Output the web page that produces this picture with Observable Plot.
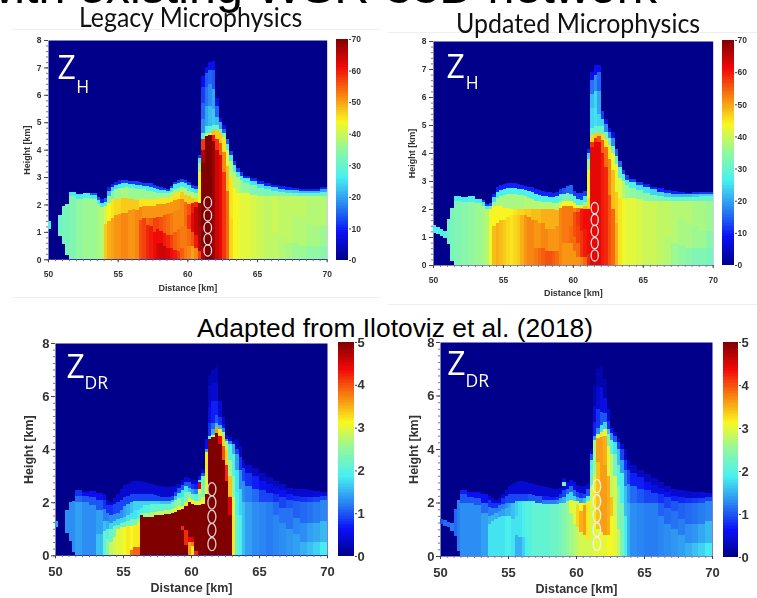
<!DOCTYPE html>
<html>
<head>
<meta charset="utf-8">
<script src="https://cdn.jsdelivr.net/npm/d3@7"></script>
<script src="https://cdn.jsdelivr.net/npm/@observablehq/plot@0.6"></script>
<style>
html,body{margin:0;padding:0;background:#fff;width:757px;height:598px;overflow:hidden;position:relative}
.abs{position:absolute;white-space:nowrap;transform-origin:0 0}
svg{position:absolute;filter:blur(0.7px);overflow:visible}
.rule{position:absolute;height:1px;background:#efefef}
</style>
</head>
<body>
<script>
// Each entry: "column start km: value@top-of-layer-km ..." (layers stack upward; above the last layer is 0)
const legacyZh = [
"50: 0@1.1 27@1.38","50.25: ","50.75: 0@0.85 31@1.6","51: 0@0.55 32@1.95","51.25: 0@0.15 32@2.0",
"51.5: 33@2.3 26@2.45","52: 35@2.2 26@2.38","52.5: 36@2.25 27@2.42","53: 36@2.2 26@2.33 14@2.4",
"53.5: 37@2.0 26@2.15 14@2.28","53.75: 38@1.9 26@2.07 10@2.2","54: 47@1.3 41@1.95 28@2.1 14@2.22",
"54.25: 49@1.4 44@2.05 33@2.3 22@2.5 10@2.62","54.5: 50@1.5 45@2.2 33@2.5 24@2.65 10@2.75",
"54.75: 51@1.6 46@2.2 36@2.55 25@2.72 10@2.83","55: 51@1.65 46@2.2 36@2.6 26@2.75 10@2.88",
"55.25: 52@1.7 47@2.25 37@2.6 27@2.78 12@2.9","55.5: 52@1.7 47@2.25 37@2.62 27@2.78 12@2.9",
"55.75: 51@1.8 47@2.2 36@2.6 27@2.75 12@2.87","56: 51@1.85 47@2.2 36@2.6 27@2.75 12@2.85",
"56.25: 52@1.8 47@2.15 36@2.55 26@2.72 12@2.84","56.5: 56@1.45 52@1.9 45@2.2 36@2.55 26@2.7 12@2.82",
"56.75: 57@1.5 51@1.95 45@2.2 36@2.55 26@2.68 12@2.8","57: 59@1.25 54@1.5 51@1.95 45@2.2 36@2.5 26@2.66 12@2.79",
"57.25: 60@1.2 55@1.5 51@1.95 45@2.2 36@2.5 26@2.65 12@2.78","57.5: 61@1.0 57@1.5 51@1.95 45@2.2 36@2.45 26@2.6 12@2.72",
"57.75: 63@0.6 61@1.1 57@1.55 51@2.0 45@2.2 36@2.4 26@2.55 12@2.68","58: 64@0.6 61@1.05 56@1.55 51@2.0 45@2.25 36@2.4 26@2.53 12@2.64",
"58.25: 64@0.5 60@0.95 55@1.6 51@2.0 45@2.25 36@2.4 26@2.52 12@2.6","58.5: 63@0.4 59@0.9 54@1.65 51@2.05 45@2.25 36@2.4 26@2.5 12@2.58",
"58.75: 61@0.4 57@0.9 53@1.7 51@2.1 45@2.3 36@2.45 26@2.6 12@2.68","59: 60@0.35 55@1.0 52@1.75 51@2.15 45@2.4 36@2.55 26@2.75 12@2.82",
"59.25: 58@0.3 54@1.1 52@1.8 51@2.2 45@2.45 36@2.6 26@2.8 12@2.9","59.5: 55@0.4 53@1.2 52@2.2 47@2.45 38@2.65 26@2.82 12@2.92",
"59.75: 53@0.5 53@1.2 54@2.1 47@2.35 38@2.6 26@2.8 12@2.9","60: 52@0.5 54@1.1 58@1.6 56@2.0 47@2.3 38@2.5 26@2.72 12@2.82",
"60.25: 50@0.5 56@1.0 62@1.7 60@2.05 47@2.25 38@2.45 26@2.6 12@2.72","60.5: 52@0.4 60@0.9 65@1.9 59@2.1 46@2.25 37@2.4 25@2.55 12@2.68",
"60.75: 57@0.3 66@1.2 67@2.05 44@2.5 43@3.2 36@3.5 26@3.7 12@3.82","61: 66@0.5 70@3.5 66@4.0 58@4.4 28@4.6 18@5.1 15@5.7 12@6.3 8@6.7",
"61.25: 70@4.5 40@4.6 26@4.85 20@5.6 16@6.3 14@6.8 8@7.0","61.5: 70@4.55 45@4.62 28@4.85 22@5.6 18@6.4 15@6.9 8@7.2",
"61.75: 68@4.3 60@4.55 48@4.72 30@4.9 23@5.5 20@6.2 14@6.9 8@7.25","62: 64@4.0 58@4.4 47@4.7 30@4.9 22@5.2 15@5.6 8@5.9",
"62.25: 62@3.8 55@4.25 47@4.6 32@4.75 20@5.0 8@5.15","62.5: 58@3.2 52@3.9 45@4.45 32@4.6 15@4.75 8@4.9",
"62.75: 54@2.5 48@3.4 42@4.0 28@4.2 15@4.38","63: 46@1.5 45@3.0 38@3.6 26@3.8 12@3.95",
"63.25: 44@2.6 38@3.2 27@3.45 12@3.6","63.5: 43@2.4 38@3.0 27@3.2 12@3.32","63.75: 42@2.4 36@2.9 27@3.05 12@3.18",
"64: 42@2.4 35@2.8 27@2.95 10@3.05","64.5: 41@2.35 33@2.72 25@2.85 10@2.97","65: 40@2.3 33@2.6 25@2.75 10@2.87",
"65.5: 39@2.3 32@2.55 24@2.68 10@2.78","66: 39@1 40@2.3 33@2.5 24@2.62 10@2.72","66.5: 38@0.8 39@2.3 33@2.46 24@2.57 10@2.67","67: 37@0.6 39@2.3 33@2.42 24@2.52 10@2.62","67.5: 36@0.6 38@1.6 39@2.3 31@2.42 23@2.51 10@2.6",
"68: 36@0.5 38@1.5 39@2.3 30@2.42 22@2.5 10@2.58","68.5: 35@0.5 37@1.3 38@2.3 30@2.42 22@2.5 10@2.56","69: 35@0.5 37@1.2 38@2.3 30@2.42 22@2.5 10@2.57","69.5: 34@0.5 36@1.2 38@2.3 30@2.45 20@2.55 10@2.64"
];
const updatedZh = [
"50: 0@1.15 26@1.42","50.25: 0@1.1 27@1.35","50.5: 0@1.05 27@1.27","50.75: 0@0.95 28@1.2","51: 0@0.75 31@1.65","51.25: 0@0.15 32@2.05",
"51.5: 33@2.3 26@2.45","52: 34@2.25 26@2.42","52.5: 35@2.25 27@2.45","53: 36@2.2 26@2.36","53.5: 37@2.1 26@2.25 12@2.32",
"53.75: 38@2.0 26@2.1 12@2.18","54: 43@2.0 30@2.12 14@2.2","54.25: 48@1.4 44@2.1 36@2.25 25@2.42 10@2.55","54.5: 49@1.5 44@2.1 37@2.4 26@2.62 10@2.78",
"54.75: 48@1.6 44@2.1 37@2.45 26@2.68 10@2.85","55: 47@1.6 44@2.05 37@2.5 27@2.72 10@2.9","55.25: 46@1.7 44@2.05 37@2.55 27@2.75 10@2.92",
"55.5: 45@1.8 44@2.0 37@2.55 27@2.75 10@2.92","55.75: 46@1.8 45@2.0 37@2.55 27@2.75 10@2.92","56: 47@1.8 46@2.0 37@2.5 27@2.72 10@2.88",
"56.25: 49@1.8 46@2.0 37@2.5 27@2.7 10@2.85","56.5: 51@1.8 47@2.0 38@2.45 27@2.68 10@2.83","56.75: 52@1.7 47@2.0 38@2.4 27@2.65 10@2.8",
"57: 52@1.6 48@2.0 38@2.35 27@2.6 10@2.77","57.25: 53@0.6 51@1.6 48@2.0 38@2.3 27@2.55 10@2.72","57.5: 54@0.6 51@1.5 48@2.0 38@2.28 27@2.5 10@2.68",
"57.75: 55@0.6 52@1.5 49@2.0 38@2.25 27@2.48 10@2.65","58: 56@0.5 52@1.3 49@2.0 38@2.25 27@2.45 10@2.62","58.25: 56@0.5 51@1.3 49@2.0 38@2.25 27@2.42 10@2.6",
"58.5: 55@0.5 51@1.3 49@2.0 38@2.22 27@2.42 10@2.58","58.75: 54@0.5 51@1.4 49@1.95 38@2.2 27@2.45 10@2.62","59: 52@0.8 52@2.05 42@2.25 30@2.52 12@2.7",
"59.25: 51@0.8 53@2.1 43@2.3 32@2.55 14@2.75","59.5: 51@0.8 53@2.1 44@2.3 32@2.58 15@2.82","59.75: 51@0.8 54@1.4 53@2.1 44@2.3 30@2.55 15@2.85",
"60: 51@0.5 54@1.0 56@1.9 52@2.05 43@2.2 30@2.45 12@2.65","60.25: 51@0.3 54@0.8 57@1.4 58@1.9 54@2.05 42@2.15 28@2.35 12@2.58",
"60.5: 52@0.3 58@1.2 60@2.0 52@2.05 42@2.15 28@2.32 12@2.58","60.75: 54@0.3 60@1.3 61@2.0 48@2.1 36@2.25 26@2.45 12@2.65",
"61: 59@0.4 61@2.0 46@2.4 44@3.4 36@3.8 24@4.0 10@4.15","61.25: 62@4.2 58@4.4 46@4.65 30@4.9 24@5.6 22@6.1 16@6.6 8@6.9",
"61.5: 62@4.4 58@4.55 47@4.72 30@4.95 25@5.6 24@6.2 18@6.8 8@7.15","61.75: 62@4.4 56@4.6 47@4.72 30@4.95 24@5.4 20@6.2 15@6.9 8@7.15",
"62: 60@4.0 55@4.45 46@4.68 30@4.95 24@5.2 12@5.5","62.25: 59@3.5 54@4.2 45@4.5 32@4.75 18@5.05 8@5.2","62.5: 56@2.5 52@3.8 45@4.3 32@4.55 18@4.75 8@4.9",
"62.75: 54@2 48@3.4 43@4.0 32@4.25 18@4.55 8@4.75","63: 49@1.5 47@2.6 42@3.6 30@3.9 15@4.15","63.25: 45@2.4 42@3.1 30@3.5 15@3.72",
"63.5: 43@2.4 38@3.0 27@3.25 12@3.4","63.75: 42@2.4 36@2.85 27@3.05 12@3.2","64: 42@2.4 35@2.75 27@2.95 12@3.08","64.5: 41@2.35 34@2.68 25@2.85 12@2.97",
"65: 40@2.3 34@2.58 25@2.78 10@2.9","65.5: 40@2.3 33@2.5 24@2.7 10@2.8","66: 39@2.3 32@2.45 24@2.62 10@2.74","66.5: 38@1 39@2.3 31@2.44 23@2.58 10@2.68","67: 36@0.8 38@2.3 30@2.42 22@2.55 10@2.64","67.5: 35@0.7 37@1.6 38@2.3 30@2.42 22@2.53 10@2.6",
"68: 34@0.6 37@1.5 38@2.3 30@2.42 22@2.52 10@2.58","68.5: 33@0.6 36@1.4 37@2.3 30@2.43 23@2.53 11@2.6","69: 33@0.6 36@1.2 37@2.3 30@2.45 24@2.55 12@2.62","69.5: 32@0.6 34@1.2 36@2.3 30@2.45 24@2.55 12@2.62"
];
const legacyZdr = [
"50: 0@1.08 1.4@1.3","50.25: ","50.75: 0@0.85 1.3@1.7","51: 0@0.55 1.3@2.0","51.25: 0@0.12 1.3@2.05",
"51.5: 1.4@2.0 1.1@2.25 0.8@2.45","52: 1.3@2.0 1.0@2.25 0.6@2.4","52.5: 1.3@1.9 1.0@2.2 0.6@2.42","53: 1.6@0.8 1.4@1.7 1@2.1 0.6@2.35",
"53.5: 2.1@0.9 1.6@1.3 1.2@1.75 0.8@2.1 0.45@2.3","53.75: 2.4@0.6 2.0@1 1.5@1.3 1.2@1.6 0.8@1.9 0.4@2.1","54: 2.8@0.5 2.2@1.0 1.7@1.2 1.3@1.5 0.8@1.9 0.4@2.0",
"54.25: 2.9@0.7 2.3@1.1 1.7@1.3 1.3@1.55 0.9@1.95 0.4@2.15","54.5: 3.0@1.0 2.2@1.15 1.7@1.35 1.3@1.6 0.9@2.0 0.4@2.3","54.75: 3.0@1.05 2.2@1.2 1.7@1.4 1.3@1.7 0.9@2.1 0.4@2.5",
"55: 3.1@1.05 2.2@1.25 1.7@1.45 1.4@1.85 0.9@2.2 0.4@2.65","55.25: 3.2@1.1 2.3@1.3 1.8@1.5 1.5@1.95 0.9@2.25 0.4@2.7","55.5: 3.8@0.2 3.1@1.1 2.3@1.35 1.8@1.6 1.6@2.0 0.9@2.3 0.4@2.75",
"55.75: 3.9@0.3 3.2@1.15 2.3@1.35 1.8@1.7 1.7@2.05 0.9@2.3 0.4@2.8","56: 3.9@0.3 3.2@1.25 2.4@1.4 1.9@1.7 1.7@2.05 0.9@2.3 0.4@2.8",
"56.25: 5@1.5 2.4@1.6 1.9@1.8 1.7@2.05 0.9@2.3 0.4@2.8","56.5: 5@1.45 2.6@1.6 2@1.9 1.7@2.05 0.9@2.3 0.4@2.75","56.75: 5@1.45 2.6@1.6 2@1.9 1.7@2.05 0.9@2.3 0.4@2.72",
"57: 5@1.45 2.7@1.62 2.1@1.95 1.7@2.05 0.9@2.3 0.4@2.7","57.25: 5@1.5 2.8@1.65 2.1@1.95 1.7@2.05 0.9@2.28 0.4@2.65","57.5: 5@1.5 2.8@1.68 2.1@1.95 1.7@2.05 0.9@2.25 0.4@2.62",
"57.75: 5@1.52 2.8@1.68 2.1@1.95 1.6@2.05 0.9@2.2 0.4@2.6","58: 5@1.55 2.8@1.7 2.1@1.95 1.6@2.05 0.9@2.2 0.4@2.58","58.25: 5@1.55 2.8@1.72 2.1@1.95 1.6@2.05 0.9@2.2 0.4@2.58",
"58.5: 5@1.6 2.9@1.75 2.2@2.0 1.6@2.1 0.9@2.25 0.4@2.6","58.75: 5@1.65 3@1.8 2.4@2.1 1.6@2.25 0.9@2.4 0.4@2.62","59: 5@1.7 3@1.85 2.5@2.15 1.8@2.35 1@2.55 0.4@2.7",
"59.25: 5@0.95 4.2@1.1 5@1.75 3@1.85 2.1@2.2 1.8@2.45 1@2.65 0.4@2.85","59.5: 5@0.4 4.2@0.95 5@1.85 3.2@2.0 2.3@2.4 1.8@2.6 1@2.75 0.4@2.95",
"59.75: 3.6@0.5 4.4@0.7 5@2.0 3.1@2.15 2.4@2.4 1.6@2.55 1@2.75 0.4@2.9","60: 3.2@0.35 3.8@0.5 4.5@0.7 5@1.95 3.1@2.1 2.2@2.3 1.4@2.5 0.8@2.7 0.4@2.85",
"60.25: 4.2@0.15 5@1.9 3@2.05 2@2.3 1.2@2.5 0.7@2.7 0.4@2.82","60.5: 5@1.9 3@2.05 2.4@2.3 3@2.5 4.5@2.75 1.8@2.85 0.6@3","60.75: 5@1.95 3@2.2 2.3@2.6 2.2@3.0 1@3.1 0.4@3.25",
"61: 5@2.3 3@3 3.2@3.9 1.4@4 0.5@4.4","61.25: 5@4.4 2@4.5 0.8@5 0.5@5.6 0.3@6.4 0.2@6.8","61.5: 5@4.45 3@4.55 1.5@4.75 1.1@5.0 0.7@5.8 0.4@6.5 0.25@7",
"61.75: 5@4.6 3.6@4.85 1.6@5.0 1.0@5.3 0.7@5.8 0.4@6.5 0.25@7.1","62: 5@4.2 4.4@4.5 3.2@4.75 1.5@4.9 0.8@5.2 0.4@5.8","62.25: 5@3.6 4@4.1 3.3@4.5 2.5@4.65 1.2@4.78 0.6@4.95 0.3@5.2",
"62.5: 5@2.8 4.2@3.4 3.3@4 2.6@4.3 1.3@4.4 0.5@4.55","62.75: 5@1.5 4.5@2.2 3.4@3 2.6@3.6 2@4.2 1.2@4.3 0.4@4.45","63: 3.2@1.5 3@2.2 2.5@3 2@3.8 1.5@4.2 0.6@4.3",
"63.25: 2.1@1.5 1.9@2.4 1.8@3.2 1.4@3.8 0.9@4 0.3@4.4","63.5: 1.9@1.5 1.7@2.5 1.3@3.2 0.8@3.7 0.3@4.1","63.75: 1.6@2 1.3@2.8 0.9@3.3 0.4@3.6","64: 1.4@2 1.2@2.6 0.8@3.1 0.4@3.4",
"64.5: 1.3@2 1.1@2.5 0.7@3 0.3@3.3","65: 1.25@2 0.9@2.45 0.6@2.8 0.3@3.1","65.5: 1.2@2 0.9@2.35 0.5@2.7 0.3@2.95","66: 1.25@1.5 1.1@2 0.8@2.3 0.5@2.6 0.3@2.8","66.5: 1.3@1.2 1.15@1.8 0.9@2.2 0.6@2.45 0.35@2.68",
"67: 1.35@1 1.15@1.8 1@2.1 0.7@2.3 0.4@2.55","67.5: 1.4@0.8 1.25@1.4 1.05@2.05 0.75@2.25 0.4@2.5","68: 1.5@0.5 1.3@1.2 1.1@2 0.8@2.2 0.4@2.48","68.5: 1.6@0.5 1.4@1.2 1.15@2 0.85@2.2 0.42@2.45","69: 1.7@0.5 1.45@1.2 1.2@2 0.9@2.2 0.45@2.42","69.5: 1.85@0.5 1.55@1.3 1.25@2.1 0.9@2.25 0.45@2.4"
];
const updatedZdr = [
"50: 0@1.18 1@1.4","50.25: 0@1.13 1.1@1.35","50.5: 0@1.08 1.1@1.27","50.75: 0@0.95 1.2@1.25","51: 0@0.75 1.1@1.75","51.25: 0@0.2 1.2@2.1",
"51.5: 1.3@2.0 1@2.3 0.7@2.45","52: 1.3@2.0 1@2.2 0.6@2.38","52.5: 1.3@1.9 1@2.15 0.6@2.38","53: 1.4@1.6 1.1@2.0 0.6@2.3",
"53.5: 1.8@1.2 1.5@1.5 1.2@1.85 0.8@2.1 0.4@2.25","53.75: 1.8@1.3 1.5@1.55 1.2@1.8 0.8@2 0.4@2.15","54: 1.8@1.4 1.5@1.6 1.2@1.8 0.8@2 0.4@2.1",
"54.25: 1.8@1.45 1.4@1.7 1.2@1.9 0.8@2 0.4@2.15","54.5: 1.8@1.5 1.4@1.75 1.2@1.95 0.8@2.15 0.4@2.3","54.75: 1.9@1.5 1.5@1.8 1.3@2 0.9@2.25 0.4@2.45",
"55: 1.9@1.5 1.5@1.85 1.4@2 0.9@2.3 0.4@2.6","55.25: 1.8@1.4 1.6@2.0 0.9@2.3 0.4@2.7","55.5: 1.5@0.8 1.8@1.5 1.7@2.05 0.9@2.3 0.4@2.75","55.75: 1.5@0.7 1.8@1.5 1.8@2.05 0.9@2.3 0.4@2.8",
"56: 1.7@0.7 1.9@1.7 1.9@2.05 0.9@2.3 0.4@2.8","56.25: 1.9@0.8 2@2.05 0.9@2.3 0.4@2.78","56.5: 2@2.05 1@2.3 0.4@2.72","56.75: 2.1@2.05 1@2.28 0.4@2.7",
"57: 2.1@2.0 1@2.25 0.4@2.65","57.25: 2.1@2.0 1@2.25 0.4@2.62","57.5: 2.1@1.95 1.2@2.1 0.7@2.25 0.4@2.6","57.75: 2.1@1.95 1.2@2.1 0.7@2.25 0.4@2.58",
"58: 2.2@1.95 1.2@2.1 0.7@2.2 0.4@2.55","58.25: 2.2@1.95 1.2@2.1 0.7@2.2 0.4@2.52","58.5: 2.2@1.95 1.3@2.1 0.8@2.2 0.4@2.5","58.75: 2.3@2.0 1.4@2.15 0.8@2.3 0.4@2.55",
"59: 2.4@2.0 1.5@2.2 0.9@2.45 0.4@2.6 2.3@2.78 0.4@2.9","59.25: 2.5@2.05 1.7@2.3 1.1@2.5 0.5@2.75","59.5: 2.6@1.6 3@2.1 1.7@2.4 1.1@2.6 0.5@2.85","59.75: 2.7@1.2 3@2.05 1.7@2.25 1.1@2.45 0.5@2.75",
"60: 2.8@1.1 3.3@1.9 2.8@2.05 1.4@2.2 0.9@2.4 0.4@2.65","60.25: 2.9@0.9 3.5@1.7 3.1@2.0 1.4@2.15 0.8@2.35 0.4@2.6","60.5: 2.9@0.8 3.6@1.9 3.2@2.0 1.6@2.15 0.9@2.3 0.4@2.6","60.75: 2.9@0.6 3.2@2.05 1.9@2.25 1@2.5 0.4@2.7",
"61: 2.9@1 2.9@2.6 2.1@3.2 1.9@3.6 1@3.8 0.4@4","61.25: 3@1.2 3.2@3 2.6@4.35 1.4@4.5 0.7@5 0.4@5.6 0.2@6.4","61.5: 3@1 3.4@3.5 3.6@4.4 2.9@4.55 1.3@4.8 0.8@5.5 0.4@6.3 0.2@7",
"61.75: 3@0.9 3.6@4.45 3.2@4.65 1.8@4.9 1@5.4 0.5@6.3 0.2@7.1","62: 3@0.8 3.6@3.4 3.5@4.5 3@4.75 1.7@5 1@5.35 0.5@5.9 0.2@6.6","62.25: 3.1@0.8 3.5@3 3@4.1 2.4@4.55 1.6@4.75 0.8@5.05 0.4@5.5",
"62.5: 3.1@1.5 3.4@2.2 2.8@3.8 2.1@4.35 1.3@4.6 0.6@4.8","62.75: 3@1.5 2.9@3 2.3@3.8 1.8@4.25 1@4.5 0.4@4.65","63: 2.8@1 2.4@2.6 2@3.4 1.6@4 0.9@4.25 0.4@4.4",
"63.25: 2.3@2 1.9@3.1 1.4@3.6 0.9@4 0.4@4.2","63.5: 1.9@1.5 1.6@2.6 1.2@3.2 0.8@3.6 0.3@4","63.75: 1.5@2 1.3@2.7 0.9@3.2 0.4@3.6","64: 1.3@2 1.1@2.6 0.7@3.1 0.3@3.4",
"64.5: 1.25@2 1@2.5 0.7@2.95 0.3@3.2","65: 1.2@2 0.9@2.45 0.6@2.75 0.3@3.05","65.5: 1.2@2 0.9@2.35 0.5@2.65 0.3@2.9","66: 1.25@1.5 1.05@2 0.8@2.3 0.5@2.55 0.3@2.75","66.5: 1.3@1.2 1.1@1.8 0.9@2.2 0.6@2.4 0.35@2.62",
"67: 1.35@1 1.15@1.7 1@2.05 0.7@2.25 0.4@2.5","67.5: 1.4@0.8 1.2@1.4 1.05@2 0.75@2.2 0.4@2.45","68: 1.5@0.5 1.3@1.2 1.1@2 0.8@2.15 0.4@2.42","68.5: 1.6@0.5 1.35@1.2 1.15@2 0.85@2.15 0.42@2.4","69: 1.7@0.5 1.45@1.2 1.2@2 0.9@2.15 0.45@2.38","69.5: 1.85@0.5 1.55@1.3 1.25@2.05 0.9@2.2 0.45@2.35"
];

const jetStops = [0,0.125,0.25,0.375,0.5,0.625,0.75,0.875,1];
const jetColors = ["#00008a","#0a10f5","#2a86f2","#48f0f0","#90f8a0","#f8f820","#f88010","#f00808","#800000"];
const distanceTicks = [50,55,60,65,70];
const distanceMinor = d3.range(50,70.01,0.5);
const navy = "#00008a";

const panels = [
 {data:legacyZh, max:70, step:10, px:[48,40,326.7,259.3], bar:[336,348,39,260], heightTicks:[0,1,2,3,4,5,6,7,8], minorY:0.2,
  ovals:{x:61.43,y:[0.34,0.75,1.17,1.62,2.09]}, oval:[3.8,5.6], ovalColor:"#f4e6e6", small:true,
  z:[50.65,6.58], sub:[52.0,6.1], subText:"H"},
 {data:updatedZh, max:70, step:10, px:[433,41,712.7,265], bar:[722,734,40,265], heightTicks:[0,1,2,3,4,5,6,7,8], minorY:0.2,
  ovals:{x:61.53,y:[0.36,0.8,1.23,1.63,2.05]}, oval:[3.6,5.6], ovalColor:"#f4e6e6", small:true,
  z:[50.93,6.68], sub:[52.3,6.3], subText:"H"},
 {data:legacyZdr, max:5, step:1, px:[55,342.7,327,555], bar:[338,354,342,556], heightTicks:[0,2,4,6,8], minorY:0.25,
  ovals:{x:61.5,y:[0.44,0.97,1.47,2.01,2.51]}, oval:[4,6.6], ovalColor:"#d8d0d0", small:false,
  z:[50.8,6.7], sub:[52.13,6.28], subText:"DR"},
 {data:updatedZdr, max:5, step:1, px:[440,342,712,556], bar:[723,738,342,557], heightTicks:[0,2,4,6,8], minorY:0.25,
  ovals:{x:61.5,y:[0.475,1.0,1.54,2.06,2.63]}, oval:[3.8,6.8], ovalColor:"#f0f0e8", small:false,
  z:[50.5,6.8], sub:[51.84,6.35], subText:"DR"}
];

function layers(columns){
  const starts = columns.map(s => +s.split(":")[0]);
  const out = [];
  columns.forEach((s,i) => {
    const x1 = starts[i], x2 = i+1<starts.length ? starts[i+1] : 70;
    let y1 = 0;
    (s.split(":")[1].trim().split(/\s+/).filter(Boolean)).forEach(t => {
      const [v,top] = t.split("@").map(Number);
      if (v>0) out.push({x1,x2,y1,y2:top,v});
      y1 = top;
    });
  });
  return out;
}
function ellipse(rx,ry){
  const k=0.5523;
  return {draw(c){
    c.moveTo(rx,0);
    c.bezierCurveTo(rx,ry*k,rx*k,ry,0,ry);
    c.bezierCurveTo(-rx*k,ry,-rx,ry*k,-rx,0);
    c.bezierCurveTo(-rx,-ry*k,-rx*k,-ry,0,-ry);
    c.bezierCurveTo(rx*k,-ry,rx,-ry*k,rx,0);
    c.closePath();
  }};
}
function place(svg,left,top){
  svg.style.left = left+"px"; svg.style.top = top+"px";
  document.body.appendChild(svg);
}
const colorOf = max => ({type:"linear", domain:jetStops.map(s=>s*max), range:jetColors, clamp:true, interpolate:"rgb"});

panels.forEach(p => {
  const [l,t,r,b] = p.px;
  const mL=40, mR=10, mT=10, mB=45;
  const font = "'Liberation Sans',Arial,sans-serif";
  const tickSize = p.small ? 8.5 : 13;
  const labelSize = p.small ? 9 : 12.5;
  const svg = Plot.plot({
    width:(r-l)+mL+mR, height:(b-t)+mT+mB,
    marginLeft:mL, marginRight:mR, marginTop:mT, marginBottom:mB,
    x:{domain:[50,70]}, y:{domain:[0,8]},
    color:colorOf(p.max),
    style:{background:"transparent",overflow:"visible"},
    marks:[
      Plot.frame({fill:navy,stroke:null}),
      Plot.rect(layers(p.data),{x1:"x1",x2:"x2",y1:"y1",y2:"y2",fill:"v",inset:0,shapeRendering:"crispEdges"}),
      Plot.dot(p.ovals.y,{x:p.ovals.x,y:d=>d,r:5,symbol:ellipse(p.oval[0],p.oval[1]),stroke:p.ovalColor,strokeWidth:1.3,fill:"none"}),
      Plot.text(["Z"],{x:p.z[0],y:p.z[1],text:d=>d,fill:"#fff",fontSize:32,textAnchor:"start",lineAnchor:"bottom",fontFamily:"'Open Sans',sans-serif"}),
      Plot.text([p.subText],{x:p.sub[0],y:p.sub[1],text:d=>d,fill:"#fff",fontSize:17.5,textAnchor:"start",lineAnchor:"bottom",fontFamily:"'Open Sans',sans-serif"}),
      Plot.ruleX(distanceMinor,{x:d=>d,y1:0,y2:-0.07,stroke:"#777"}),
      Plot.ruleY(d3.range(0,8.01,p.minorY),{y:d=>d,x1:50,x2:49.85,stroke:"#777"}),
      Plot.axisX({ticks:distanceTicks,tickSize:3,tickPadding:p.small?8:8,stroke:"#444",fill:"#333",fontSize:tickSize,fontWeight:"bold",fontFamily:font,
        label:"Distance [km]",labelAnchor:"center",labelArrow:"none",labelOffset:p.small?31:36}),
      Plot.axisY({ticks:p.heightTicks,tickSize:4,tickPadding:p.small?3:2,stroke:"#444",fill:"#333",fontSize:tickSize,fontWeight:"bold",fontFamily:font,
        label:"Height [km]",labelAnchor:"center",labelArrow:"none",labelOffset:p.small?25:31})
    ]
  });
  svg.querySelectorAll("g[aria-label='x-axis label'] text, g[aria-label='y-axis label'] text").forEach(e=>{
    e.style.fontSize = labelSize+"px"; e.style.fontWeight="bold"; e.style.fill="#333"; e.style.fontFamily=font;
  });
  place(svg,l-mL,t-mT);

  const [bl,br,bt,bb] = p.bar;
  const steps = d3.range(0,p.max,p.max/140);
  const bar = Plot.plot({
    width:(br-bl)+22, height:(bb-bt)+16,
    marginLeft:0, marginRight:22, marginTop:8, marginBottom:8,
    x:{domain:[0,1],axis:null}, y:{domain:[0,p.max]},
    color:colorOf(p.max),
    style:{background:"transparent",overflow:"visible"},
    marks:[
      Plot.rect(steps,{x1:0,x2:1,y1:d=>d,y2:d=>d+p.max/140,fill:d=>d+p.max/280,shapeRendering:"crispEdges"}),
      Plot.axisY({anchor:"right",ticks:d3.range(0,p.max+0.001,p.step),tickSize:2,tickPadding:1,tickFormat:"d",stroke:"#444",fill:"#333",
        fontSize:tickSize,fontWeight:"bold",fontFamily:font,label:null})
    ]
  });
  place(bar,bl,bt-8);
});

function txt(s,style){
  const d=document.createElement("div"); d.className="abs"; d.textContent=s;
  Object.assign(d.style,style); document.body.appendChild(d);
}
[[12,368,29],[12,368,297],[388,369,32],[388,369,304]].forEach(([x,w,y])=>{
  const d=document.createElement("div"); d.className="rule";
  d.style.left=x+"px"; d.style.width=w+"px"; d.style.top=y+"px"; document.body.appendChild(d);
});
const arial="'Liberation Sans',Arial,sans-serif", soft="'Lato','Open Sans',sans-serif";
txt("with existing WSR-88D network",{right:"100px",top:"-37.6px",fontFamily:arial,fontSize:"48.4px",lineHeight:"48px",color:"#000"});
txt("Legacy Microphysics",{left:"79px",top:"1px",fontFamily:soft,fontSize:"27px",lineHeight:"32px",color:"#111",transform:"scaleX(0.92)"});
txt("Updated Microphysics",{left:"456px",top:"6.5px",fontFamily:soft,fontSize:"27px",lineHeight:"32px",color:"#111",transform:"scaleX(0.925)"});
txt("Adapted from Ilotoviz et al. (2018)",{left:"197px",top:"314px",fontFamily:arial,fontSize:"26.4px",lineHeight:"28px",color:"#000"});
</script>
</body>
</html>
